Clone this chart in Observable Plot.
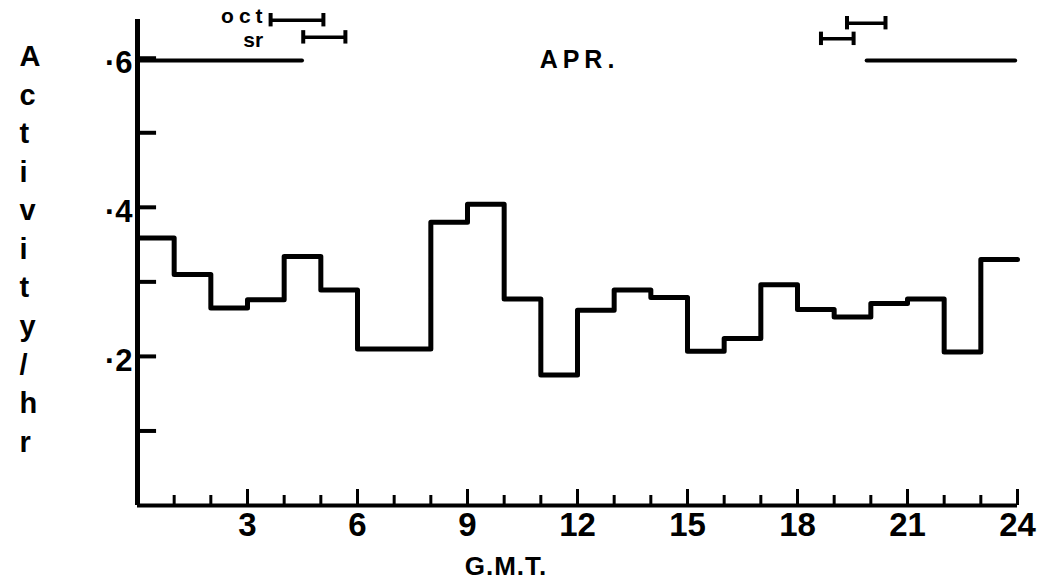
<!DOCTYPE html>
<html><head><meta charset="utf-8">
<script src="https://cdn.jsdelivr.net/npm/d3@7"></script>
<script src="https://cdn.jsdelivr.net/npm/@observablehq/plot@0.6"></script>
<style>html,body{margin:0;padding:0;background:#fff} svg{display:block}</style>
</head><body><div id="chart"></div>
<script>
// Hour bins (G.M.T.) and activity per hour (April)
const hourStarts = [0,1,2,3,4,5,6,7,8,9,10,11,12,13,14,15,16,17,18,19,20,21,22,23];
const activity   = [0.359,0.310,0.265,0.276,0.334,0.289,0.210,0.210,0.380,0.404,0.277,0.175,
                    0.262,0.289,0.279,0.207,0.224,0.296,0.263,0.253,0.271,0.277,0.206,0.330];
const lastHour = 24;

// darkness bars drawn at the ·6 level
const nightStart = [0, 19.9];
const nightEnd   = [4.5, 23.95];
const nightLevel = 0.597;

// twilight ranges (oct = civil twilight, sr/ss = sunrise/sunset)
const twLabels = ["oct", "sr", "", ""];
const twStart  = [3.63, 4.52, 19.35, 18.64];
const twEnd    = [5.07, 5.67, 20.40, 19.53];
const twLevel  = [0.651, 0.628, 0.647, 0.626];

// axis ticks
const xTicks = [1,2,3,4,5,6,7,8,9,10,11,12,13,14,15,16,17,18,19,20,21,22,23,24];
const xLabelTicks = [3,6,9,12,15,18,21,24];
const yTicks = [0.1,0.2,0.3,0.4,0.5,0.6];
const yLabelTicks = [0.2,0.4,0.6];
const yLabelText = ["·2","·4","·6"];
const yAxisTop = 0.652;

const stepData = hourStarts.map((h,i)=>({x:h, y:activity[i]})).concat([{x:lastHour, y:activity[activity.length-1]}]);
const night = nightStart.map((s,i)=>({x1:s, x2:nightEnd[i], y:nightLevel}));
const tw = twStart.map((s,i)=>({label:twLabels[i], x1:s, x2:twEnd[i], y:twLevel[i]}));
const xt = xTicks.map(t=>({x:t, major: xLabelTicks.includes(t)}));
const yl = yLabelTicks.map((v,i)=>({y:v, text:yLabelText[i]}));

const bold = "Liberation Sans, Arial, sans-serif";
const narrow = "Liberation Sans Narrow, Liberation Sans, Arial, sans-serif";

const chart = Plot.plot({
  width: 1037, height: 586,
  marginLeft: 137, marginRight: 20, marginTop: 13, marginBottom: 81,
  x: {domain: [0, 24], axis: null},
  y: {domain: [0, 0.66], axis: null},
  style: {background: "#fff", color: "#000"},
  marks: [
    // axes
    Plot.ruleX([0], {y1: 0, y2: yAxisTop, stroke: "#000", strokeWidth: 5}),
    Plot.ruleY([0], {x1: 0, x2: 24, stroke: "#000", strokeWidth: 4}),
    Plot.ruleY(yTicks, {x1: 0, x2: 0.52, stroke: "#000", strokeWidth: 4}),
    Plot.ruleX(xt, {x: "x", y1: 0, y2: d => d.major ? 0.0215 : 0.0134, stroke: "#000", strokeWidth: 3}),
    Plot.text(xLabelTicks, {x: d => d, y: 0, dy: 20, text: d => String(d), fontFamily: narrow, fontWeight: "bold", fontSize: 33, fill: "#000"}),
    Plot.text(yl, {x: 0, y: "y", text: "text", dx: -5, dy: 5, textAnchor: "end", fontFamily: narrow, fontWeight: "bold", fontSize: 31, fill: "#000"}),
    // night bars
    Plot.ruleY(night, {x1: "x1", x2: "x2", y: "y", stroke: "#000", strokeWidth: 4, strokeLinecap: "round"}),
    // twilight ranges
    Plot.ruleY(tw, {x1: "x1", x2: "x2", y: "y", stroke: "#000", strokeWidth: 3.5}),
    Plot.ruleX(tw, {x: "x1", y1: d => d.y - 0.009, y2: d => d.y + 0.009, stroke: "#000", strokeWidth: 4}),
    Plot.ruleX(tw, {x: "x2", y1: d => d.y - 0.009, y2: d => d.y + 0.009, stroke: "#000", strokeWidth: 4}),
    Plot.text(tw.filter(d => d.label === "oct"), {x: "x1", y: "y", text: "label", dx: -3, dy: -4, textAnchor: "end", fontFamily: bold, fontWeight: "bold", fontSize: 21, fill: "#000"}),
    Plot.text(tw.filter(d => d.label === "sr"), {x: "x1", y: "y", text: "label", dx: -40, dy: 3, textAnchor: "end", fontFamily: bold, fontWeight: "bold", fontSize: 21, fill: "#000"}),
    // month
    Plot.text(["APR."], {x: 12, y: nightLevel, dx: 2, text: d => d, fontFamily: bold, fontWeight: "bold", fontSize: 25, fill: "#000"}),
    // step line
    Plot.line(stepData, {x: "x", y: "y", curve: "step-after", stroke: "#000", strokeWidth: 5, strokeLinejoin: "round"}),
    // axis titles
    Plot.text(["G.M.T."], {x: 10.05, y: 0, dy: 61, text: d => d, fontFamily: bold, fontWeight: "bold", fontSize: 26, fill: "#000"}),
    Plot.text(["A\nc\nt\ni\nv\ni\nt\ny\n/\nh\nr"], {frameAnchor: "left", dx: -118, dy: -13, text: d => d, lineHeight: 1.33, fontFamily: bold, fontWeight: "bold", fontSize: 29, fill: "#000"})
  ]
});
document.getElementById("chart").appendChild(chart);
// letter spacing like the typeset original
const sp = {"APR.": "5px", "oct": "5px", "G.M.T.": "1px"};
d3.select(chart).selectAll("text").each(function() {
  const t = this.textContent;
  if (sp[t]) d3.select(this).attr("letter-spacing", sp[t]);
});
</script>
</body></html>
